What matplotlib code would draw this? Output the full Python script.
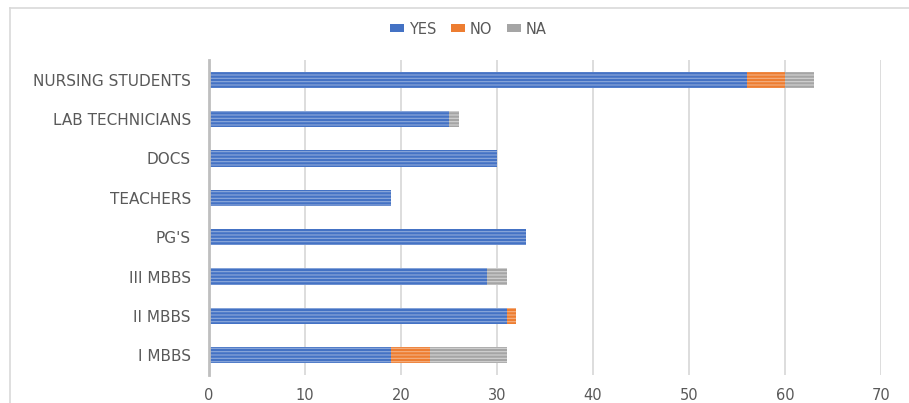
import matplotlib
matplotlib.use("Agg")
import matplotlib.pyplot as plt
from matplotlib.lines import Line2D
from matplotlib.patches import Patch
import numpy as np

categories = ["I MBBS", "II MBBS", "III MBBS", "PG'S", "TEACHERS", "DOCS",
              "LAB TECHNICIANS", "NURSING STUDENTS"]
yes_vals = [19, 31, 29, 33, 19, 30, 25, 56]
no_vals = [4, 1, 0, 0, 0, 0, 0, 4]
na_vals = [8, 0, 2, 0, 0, 0, 1, 3]
x_ticks = [0, 10, 20, 30, 40, 50, 60, 70]

series = [
    ("YES", yes_vals, "#4472C4", "#8EA9DB"),
    ("NO", no_vals, "#ED7D31", "#F4B183"),
    ("NA", na_vals, "#A5A5A5", "#D3D3D3"),
]

plt.rcParams["font.family"] = ["DejaVu Sans"]
plt.rcParams["hatch.linewidth"] = 0.8

fig = plt.figure(figsize=(9.09, 4.03), dpi=100)
ax = fig.add_axes([209 / 909, 1 - 375 / 403, 672 / 909, 315 / 403])

y = np.arange(len(categories))
left = np.zeros(len(categories))
handles = []
for name, vals, face, stripe in series:
    vals = np.array(vals, dtype=float)
    ax.barh(y, vals, left=left, height=0.41, color=face, edgecolor=stripe,
            hatch="-----", linewidth=0, zorder=3)
    left += vals
    handles.append(Patch(facecolor=face, edgecolor="none", label=name))

ax.set_xlim(0, 70)
ax.set_ylim(-0.5, len(categories) - 0.5)
ax.set_xticks(x_ticks)
ax.set_yticks(y)
ax.set_yticklabels(categories)
ax.tick_params(axis="both", length=0, colors="#595959")
ax.tick_params(axis="y", pad=13, labelsize=11)
ax.tick_params(axis="x", pad=9, labelsize=10.5)
ax.xaxis.grid(True, color="#DDDDDD", linewidth=1.4, zorder=0)
for s in ["top", "right", "bottom"]:
    ax.spines[s].set_visible(False)
ax.spines["left"].set_color("#BFBFBF")
ax.spines["left"].set_linewidth(2)
ax.spines["left"].set_zorder(4)

fig.legend(handles=handles, loc="center", bbox_to_anchor=(468 / 909, 1 - 29 / 403),
           ncol=3, frameon=False, fontsize=10.5, labelcolor="#595959",
           handlelength=1.0, handleheight=0.5, handletextpad=0.3, columnspacing=1.0)

# chart area border
fig.add_artist(Line2D([10 / 909, 10 / 909], [0, 1 - 8 / 403], transform=fig.transFigure,
                      color="#D9D9D9", linewidth=1.2))
fig.add_artist(Line2D([10 / 909, 1], [1 - 8 / 403, 1 - 8 / 403], transform=fig.transFigure,
                      color="#D9D9D9", linewidth=1.2))

fig.savefig("out.png", dpi=100)
